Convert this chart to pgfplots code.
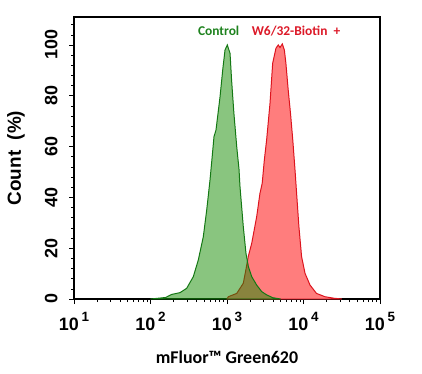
\documentclass[border=0pt]{standalone}
\usepackage{pgfplots}
\pgfplotsset{compat=1.18}
\usepackage{fontspec}
\setmainfont{Liberation Sans}
\newfontfamily\calibri{Carlito}
\definecolor{gline}{RGB}{20,120,20}
\definecolor{gfill}{RGB}{20,140,0}
\definecolor{rline}{RGB}{220,20,30}
\definecolor{rfill}{RGB}{255,125,125}
\definecolor{gtext}{RGB}{30,130,30}
\definecolor{rtext}{RGB}{220,25,40}
\newcommand{\xt}[1]{\fontsize{18}{18}\selectfont\bfseries 10\,\raisebox{0.5em}{\fontsize{13.5}{13.5}\selectfont\bfseries #1}}
\begin{document}
\begin{tikzpicture}
\useasboundingbox (-74bp,-75bp) rectangle (348bp,299bp);
\begin{axis}[
  at={(0,0)}, anchor=south west,
  scale only axis, width=306bp, height=282bp,
  xmode=log, xmin=10, xmax=100000,
  ymin=0, ymax=111,
  axis line style={line width=1.2pt},
  tick align=outside, xtick pos=bottom, ytick pos=left,
  major tick length=5bp, minor tick length=3bp,
  every tick/.style={black, line width=0.8pt},
  every minor tick/.style={black, line width=0.5pt},
  xtick={10,100,1000,10000,100000},
  xticklabels={\xt{1},\xt{2},\xt{3},\xt{4},\xt{5}},
  xticklabel style={yshift=-5bp},
  ytick={0,20,40,60,80,100},
  yticklabels={0,20,40,60,80,100},
  minor ytick={4,8,12,16,24,28,32,36,44,48,52,56,64,68,72,76,84,88,92,96,104,108},
  yticklabel style={rotate=90, anchor=south, font=\fontsize{18}{18}\selectfont\bfseries, yshift=8bp},
  xlabel={mFluor™ Green620},
  xlabel style={at={(axis description cs:0.5,-0.206)}, anchor=center, font=\calibri\fontsize{18}{18}\selectfont\bfseries},
  ylabel={Count~~(\%)},
  ylabel style={at={(axis description cs:-0.19,0.5)}, anchor=center, font=\fontsize{19}{19}\selectfont\bfseries},
  clip=false,
]
\addplot[draw=rline, line width=1pt, fill=rfill] coordinates {
(1000,0) (1040,0.9) (1340,2.2) (1633,6.2) (1778,12) (1897,16.7) (2104,21.9)
(2443,32.4) (2698,41.6) (2884,45.5) (3076,54.7) (3296,62.6) (3648,77)
(3954,92.8) (4365,98.7) (4677,100) (4932,99) (5284,100.4) (5623,98)
(5888,92.8) (6310,82.3) (6761,73.1) (7244,62.6) (7745,50.8) (8128,41.6)
(8710,28.5) (9441,16.7) (10471,10.1) (12162,5.5) (14791,2.2) (19055,0.9)
(25119,0.3) (31623,0)
} \closedcycle;
\addplot[draw=gline, line width=1pt, fill=gfill, fill opacity=0.5] coordinates {
(100,0) (126,0.3) (158,0.6) (189,1.8) (243,2.5) (297,4.2) (363,8.8)
(422,15.4) (490,24.5) (543,35) (600,46.9) (631,54) (676,63.9) (718,66.5)
(811,79.6) (879,90.2) (942,98) (1009,100) (1096,96.7) (1148,86.2)
(1230,73.2) (1340,60) (1436,51) (1479,44.2) (1633,28.5) (1770,18)
(1905,12.7) (2104,8.8) (2443,5.5) (2844,2.9) (3311,1.6) (3981,0.5) (5012,0)
} \closedcycle;
\node[text=gtext, font=\calibri\fontsize{13.5}{13.5}\selectfont\bfseries] at (axis cs:778,105.5) {Control};
\node[text=rtext, font=\calibri\fontsize{13.5}{13.5}\selectfont\bfseries] at (axis cs:7980,105.5) {W6/32-Biotin~~+};
\end{axis}
\end{tikzpicture}
\end{document}
